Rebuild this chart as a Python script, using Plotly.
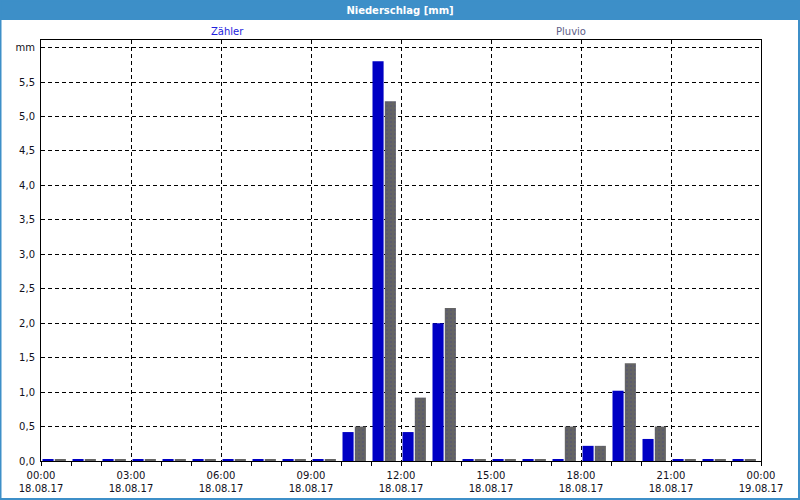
import plotly.graph_objects as go

# ---- data ----
hours = list(range(24))  # bar start hour on 18.08.17
zaehler = [0.02, 0.02, 0.02, 0.02, 0.02, 0.02, 0.02, 0.02, 0.02, 0.02,
           0.42, 5.8, 0.42, 2.0, 0.02, 0.02, 0.02, 0.02,
           0.22, 1.02, 0.32, 0.02, 0.02, 0.02]
pluvio = [0.02, 0.02, 0.02, 0.02, 0.02, 0.02, 0.02, 0.02, 0.02, 0.02,
          0.5, 5.22, 0.92, 2.22, 0.02, 0.02, 0.02, 0.5,
          0.22, 1.42, 0.5, 0.02, 0.02, 0.02]
x_tickvals = [0, 3, 6, 9, 12, 15, 18, 21, 24]
x_time_labels = ["00:00", "03:00", "06:00", "09:00", "12:00", "15:00",
                 "18:00", "21:00", "00:00"]
x_date_labels = ["18.08.17", "18.08.17", "18.08.17", "18.08.17", "18.08.17",
                 "18.08.17", "18.08.17", "18.08.17", "19.08.17"]
y_tickvals = [0, 0.5, 1, 1.5, 2, 2.5, 3, 3.5, 4, 4.5, 5, 5.5, 6]
y_ticktext = ["0,0", "0,5", "1,0", "1,5", "2,0", "2,5", "3,0", "3,5",
              "4,0", "4,5", "5,0", "5,5", "mm"]
title = "Niederschlag [mm]"
series_names = ["Zähler", "Pluvio"]

BLUE = "#0000c4"
GRAY = "#646464"
FRAME = "#3d8fc8"
FONT = "DejaVu Sans"

fig = go.Figure()
fig.add_trace(go.Bar(x=hours, y=zaehler, name=series_names[0],
                     offset=0.05, width=0.37,
                     marker=dict(color=BLUE, line=dict(width=0))))
fig.add_trace(go.Bar(x=hours, y=pluvio, name=series_names[1],
                     offset=0.46, width=0.37,
                     marker=dict(color=GRAY, line=dict(width=0),
                                 pattern=dict(shape=".", fgcolor="#3a3a8c",
                                              size=4, solidity=0.12))))
# invisible helper trace so the date-label axis is drawn
fig.add_trace(go.Scatter(x=x_tickvals, y=[0] * len(x_tickvals), xaxis="x2",
                         mode="markers", marker=dict(opacity=0),
                         hoverinfo="skip", showlegend=False))

# plot area: x 41..761, y 40..461 in pixels
L, R, T, B = 41, 39, 40, 39
W, H = 800 - L - R, 500 - T - B

def px(x):
    return (x - L) / W

def py(y):
    return (500 - B - y) / H

grid = dict(showgrid=True, gridcolor="black", gridwidth=1, griddash="4px,3px")

fig.update_layout(
    width=800, height=500,
    margin=dict(l=L, r=R, t=T, b=B, autoexpand=False),
    paper_bgcolor="white", plot_bgcolor="white",
    barmode="overlay", showlegend=False,
    font=dict(family=FONT, size=10, color="#101020"),
    title=dict(text="<b>" + title + "</b>", x=0.5, xref="container",
               y=1 - 10 / 500, yref="container", yanchor="middle",
               xanchor="center",
               font=dict(family=FONT, size=10, color="white")),
    shapes=[
        dict(type="rect", xref="paper", yref="paper",
             x0=px(0), x1=px(800), y0=py(20), y1=py(0),
             fillcolor=FRAME, line=dict(width=0), layer="below"),
        dict(type="rect", xref="paper", yref="paper",
             x0=px(0.5), x1=px(799), y0=py(499), y1=py(0.5),
             fillcolor="rgba(0,0,0,0)", line=dict(color=FRAME, width=2)),
    ],
    annotations=[
        dict(text=series_names[0], xref="paper", yref="paper",
             x=px(209), y=py(32), yanchor="middle", showarrow=False,
             font=dict(family=FONT, size=10, color="#2222dd")),
        dict(text=series_names[1], xref="paper", yref="paper",
             x=px(588), y=py(32), yanchor="middle", showarrow=False,
             font=dict(family=FONT, size=10, color="#606088")),
    ],
    xaxis=dict(
        range=[0, 24], tickmode="array", tickvals=x_tickvals,
        ticktext=x_time_labels,
        showline=True, linecolor="black", linewidth=1, mirror=True,
        ticks="outside", ticklen=4, tickcolor="black",
        minor=dict(dtick=1, tick0=0, ticks="outside", ticklen=4,
                   tickcolor="black", showgrid=False),
        zeroline=False, tickangle=0, automargin=False, ticklabelstandoff=1,
        **grid,
    ),
    xaxis2=dict(overlaying="x", anchor="y", side="bottom", range=[0, 24],
                tickmode="array", tickvals=x_tickvals, ticktext=x_date_labels,
                showline=False, showgrid=False, zeroline=False, ticks="",
                tickangle=0, ticklabelstandoff=20, automargin=False),
    yaxis=dict(
        range=[0, 6.11], tickmode="array", tickvals=y_tickvals,
        ticktext=y_ticktext,
        showline=True, linecolor="black", linewidth=1, mirror=True,
        ticks="", zeroline=False, ticklabelstandoff=3, automargin=False,
        **grid,
    ),
)

fig.write_html("out.html")
